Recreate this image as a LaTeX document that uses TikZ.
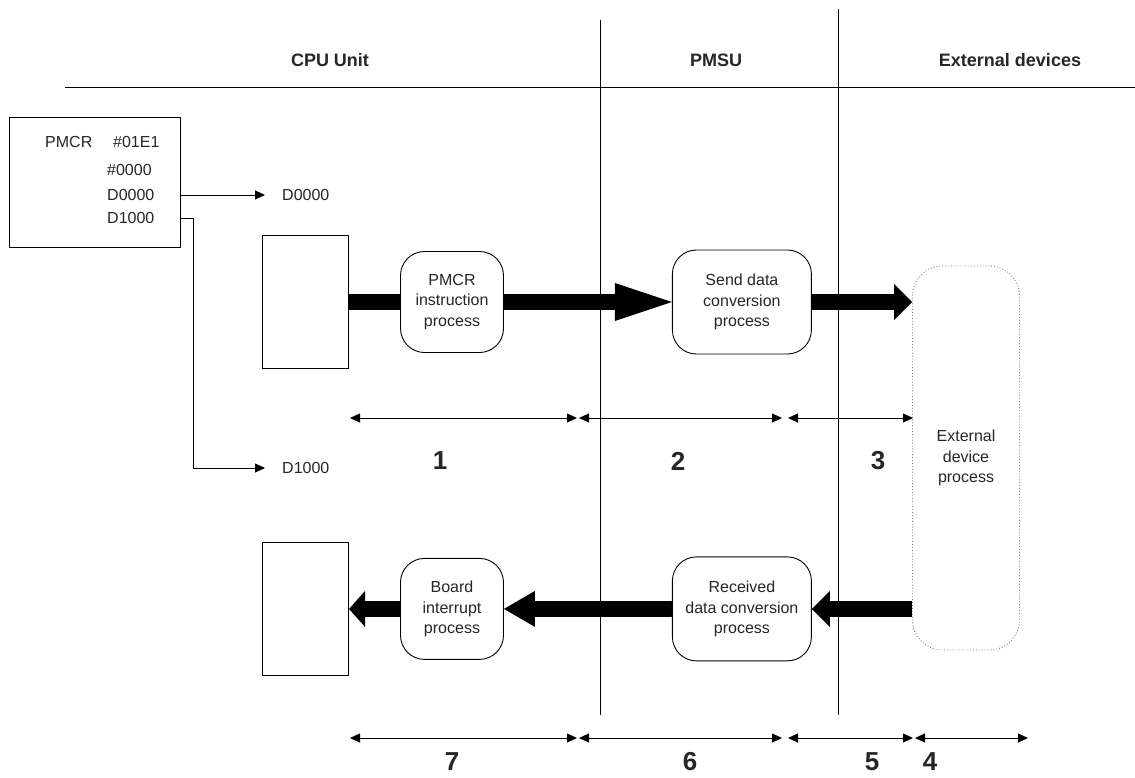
\documentclass[tikz,border=0pt]{standalone}
\usepackage{fontspec}
\setmainfont{Liberation Sans}
\usetikzlibrary{arrows.meta,positioning}

\begin{document}
\begin{tikzpicture}[
  x=1pt, y=-1pt,
  every node/.style={font=\fontsize{16}{20.5}\selectfont, text=black!85},
  lanehead/.style={font=\bfseries\fontsize{18}{21}\selectfont},
  lane/.style={line width=1pt},
  proc/.style={draw, rounded corners=24pt, minimum width=103pt, minimum height=101pt, inner sep=0pt, align=center, line width=0.9pt},
  wide/.style={minimum width=139pt, minimum height=104pt},
  buf/.style={draw, minimum width=86pt, minimum height=133pt, line width=0.9pt},
  ext/.style={draw=gray, dotted, line width=0.9pt, rounded corners=30pt, minimum width=107pt, minimum height=384pt, align=center, inner sep=0pt},
  reg/.style={anchor=west, inner sep=0pt},
  dlabel/.style={anchor=west, inner ysep=0pt, inner xsep=17pt},
  num/.style={font=\bfseries\fontsize{26}{30}\selectfont, inner sep=0pt},
  bar/.style={line width=16pt},
  sig/.style={line width=0.9pt, -{Triangle[length=10pt,width=9pt]}},
  dim/.style={line width=0.9pt, {Triangle[length=10pt,width=9pt]}-{Triangle[length=10pt,width=9pt]}}
]
\useasboundingbox (0,0) rectangle (1135,777);

% lanes
\draw[lane] (65,87) -- (1135,87);
\draw[lane] (600,20) -- (600,715);
\draw[lane] (838,9) -- (838,715);
\node[lanehead] (cpu) at (330,60) {CPU Unit};
\node[lanehead] (pmsu) at (716,60) {PMSU};
\node[lanehead] (exdev) at (1010,60) {External devices};

% instruction operands
\node[draw, minimum width=171pt, minimum height=130pt, line width=0.9pt] (instr) at (94.5,182) {};
\node[reg] (opname) at (45,142) {PMCR};
\node[reg] (opcode) at (113,142) {\#01E1};
\node[reg] (opsrc) at (107,170) {\#0000};
\node[reg] (opsend) at (107,195) {D0000};
\node[reg] (oprecv) at (107,218) {D1000};
\node[dlabel] (dsend) at (265,195) {D0000};
\node[dlabel] (drecv) at (265,468) {D1000};
\draw[sig] (instr.east |- opsend) -- (dsend.west);
\draw[sig] (instr.east |- oprecv) -- ++(13,0) |- (drecv.west);

% processes
\node[proc] (pmcr) at (452,302) {PMCR\\instruction\\process};
\node[proc, wide, right=168pt of pmcr] (send) {Send data\\conversion\\process};
\node[buf, left=51pt of pmcr] (txbuf) {};
\node[proc, below=205pt of pmcr] (board) {Board\\interrupt\\process};
\node[proc, wide, right=168pt of board] (recv) {Received\\data conversion\\process};
\node[buf, left=51pt of board] (rxbuf) {};
\node[ext] (extdev) at (966,458) {External\\device\\process};

% data flow
\draw[bar] (txbuf) -- (pmcr);
\draw[bar, -{Triangle[length=57pt,width=38pt,line width=0pt]}] (pmcr) -- (send);
\draw[bar, -{Triangle[length=18pt,width=36pt,line width=0pt]}] (send) -- (send -| extdev.west);
\draw[bar, -{Triangle[length=18pt,width=36pt,line width=0pt]}] (recv -| extdev.west) -- (recv);
\draw[bar, -{Triangle[length=31pt,width=36pt,line width=0pt]}] (recv) -- (board);
\draw[bar, -{Triangle[length=16pt,width=36pt,line width=0pt]}] (board) -- (rxbuf);

% time spans
\coordinate (a0) at (350,418);
\coordinate (a1) at (577,418);
\coordinate (a2) at (579,418);
\coordinate (a3) at (782,418);
\coordinate (a4) at (788,418);
\coordinate (a5) at (913,418);
\draw[dim] (a0) -- (a1);
\draw[dim] (a2) -- (a3);
\draw[dim] (a4) -- (a5);
\node[num] (t1) at (440,461) {1};
\node[num] (t2) at (678,461) {2};
\node[num] (t3) at (878,461) {3};

\coordinate (b0) at (350,738);
\coordinate (b1) at (577,738);
\coordinate (b2) at (579,738);
\coordinate (b3) at (782,738);
\coordinate (b4) at (788,738);
\coordinate (b5) at (913,738);
\coordinate (b6) at (915,738);
\coordinate (b7) at (1028,738);
\draw[dim] (b0) -- (b1);
\draw[dim] (b2) -- (b3);
\draw[dim] (b4) -- (b5);
\draw[dim] (b6) -- (b7);
\node[num] (t7) at (452,762) {7};
\node[num] (t6) at (690,762) {6};
\node[num] (t5) at (872,762) {5};
\node[num] (t4) at (930,762) {4};
\end{tikzpicture}
\end{document}
